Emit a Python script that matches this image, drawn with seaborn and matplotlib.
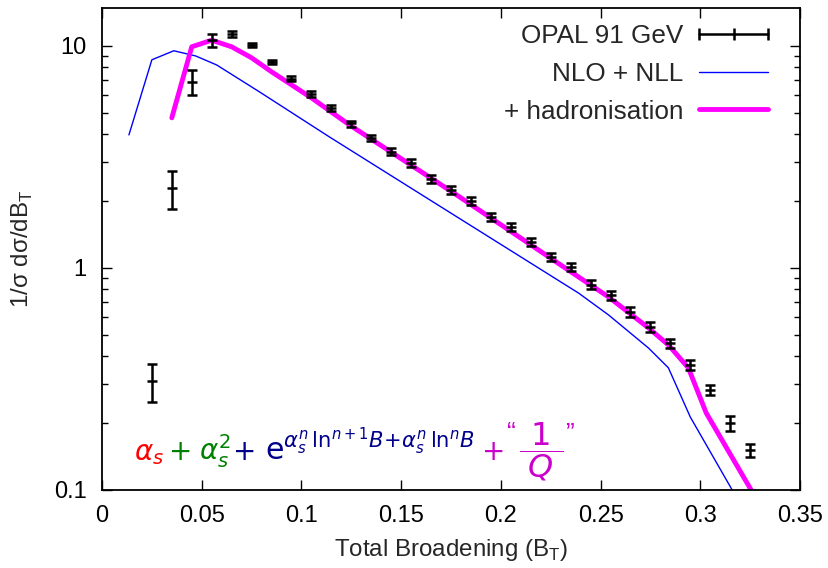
import numpy as np
import pandas as pd
import matplotlib
matplotlib.use("Agg")
import matplotlib.pyplot as plt
import seaborn as sns
from matplotlib.lines import Line2D
from matplotlib.ticker import FixedLocator, NullFormatter, FuncFormatter

# ---- data ----
bt = [0.025, 0.035, 0.045, 0.055, 0.065, 0.075, 0.085, 0.095, 0.105, 0.115,
      0.125, 0.135, 0.145, 0.155, 0.165, 0.175, 0.185, 0.195, 0.205, 0.215,
      0.225, 0.235, 0.245, 0.255, 0.265, 0.275, 0.285, 0.295, 0.305, 0.315, 0.325]
opal = [0.31, 2.29, 6.88, 10.6, 11.3, 10.05, 8.47, 7.1, 6.08, 5.26,
        4.47, 3.85, 3.33, 2.97, 2.52, 2.25, 2.0, 1.70, 1.53, 1.31,
        1.12, 1.01, 0.84, 0.755, 0.634, 0.542, 0.459, 0.366, 0.282, 0.2, 0.151]
opal_err = [0.06, 0.45, 0.9, 0.7, 0.35, 0.2, 0.2, 0.18, 0.17, 0.15,
            0.14, 0.13, 0.12, 0.11, 0.1, 0.09, 0.08, 0.07, 0.065, 0.055,
            0.05, 0.045, 0.04, 0.035, 0.03, 0.027, 0.022, 0.018, 0.015, 0.016, 0.01]

nll_x = [0.0135, 0.025, 0.036, 0.047, 0.0575, 0.079, 0.114, 0.1765,
         0.239, 0.254, 0.274, 0.284, 0.295, 0.316]
nll_y = [3.97, 8.65, 9.5, 9.0, 8.2, 6.2, 3.89, 1.73,
         0.77, 0.614, 0.436, 0.355, 0.213, 0.1]

had_x = [0.035, 0.045, 0.055, 0.065, 0.075, 0.085, 0.105, 0.124,
         0.1765, 0.239, 0.254, 0.274, 0.284, 0.294, 0.303, 0.3255]
had_y = [4.74, 9.9, 10.6, 9.9, 8.83, 7.64, 5.83, 4.41,
         2.17, 0.91, 0.74, 0.537, 0.45, 0.355, 0.222, 0.1]

labels = ["OPAL 91 GeV", "NLO + NLL", "+ hadronisation"]
xticks = [0, 0.05, 0.1, 0.15, 0.2, 0.25, 0.3, 0.35]
yticks = [0.1, 1, 10]

# ---- style ----
sns.set_style("ticks")
plt.rcParams["font.family"] = ["Liberation Sans", "DejaVu Sans"]
plt.rcParams["mathtext.fontset"] = "dejavusans"
FS_TICK = 17
FS_LAB = 17.4
FS_LEG = 18.8

W, H = 829, 568
fig = plt.figure(figsize=(W / 100, H / 100), dpi=100)
ax = fig.add_axes([102 / W, 1 - 490 / H, 698 / W, 482 / H])

df_nll = pd.DataFrame({"x": nll_x, "y": nll_y})
df_had = pd.DataFrame({"x": had_x, "y": had_y})
sns.lineplot(data=df_nll, x="x", y="y", color="#0000ff", lw=1.0, sort=False,
             estimator=None, ax=ax, legend=False)
sns.lineplot(data=df_had, x="x", y="y", color="#ff00ff", lw=3.5, sort=False,
             estimator=None, ax=ax, legend=False)
ax.errorbar(bt, opal, yerr=opal_err, fmt="_", color="k", ms=7, mew=1.8,
            elinewidth=1.8, capsize=3.5, capthick=1.8, zorder=5)

ax.set_yscale("log")
ax.set_xlim(0, 0.35)
ax.set_ylim(0.1, 14.8)
ax.xaxis.set_major_locator(FixedLocator(xticks))
ax.xaxis.set_major_formatter(FuncFormatter(lambda v, p: f"{v:g}"))
ax.yaxis.set_major_locator(FixedLocator(yticks))
ax.yaxis.set_major_formatter(FuncFormatter(lambda v, p: f"{v:g}"))
ax.yaxis.set_minor_locator(FixedLocator([m * d for d in (0.1, 1) for m in range(2, 10)]))
ax.yaxis.set_minor_formatter(NullFormatter())

for s in ax.spines.values():
    s.set_visible(True)
    s.set_linewidth(1.3)
    s.set_color("k")
ax.tick_params(which="both", direction="in", top=True, right=True,
               labelsize=FS_TICK, colors="k", width=1.0)
ax.tick_params(which="major", length=7)
ax.tick_params(which="minor", length=4)
ax.tick_params(axis="x", pad=11)
ax.tick_params(axis="y", pad=11)

ax.set_xlabel(r"Total Broadening (B$_\mathregular{T}$)", fontsize=FS_LAB, labelpad=7)
ax.set_ylabel(r"1/σ dσ/dB$_\mathregular{T}$", fontsize=FS_LAB, labelpad=14)

# ---- legend ----
handles = [
    Line2D([], [], color="k", lw=1.8, marker="|", ms=8, mew=1.8),
    Line2D([], [], color="#0000ff", lw=1.0),
    Line2D([], [], color="#ff00ff", lw=3.5),
]
leg = ax.legend(handles, labels, loc="upper right", bbox_to_anchor=(0.9805, 0.9876),
                frameon=False, fontsize=FS_LEG, markerfirst=False, numpoints=3,
                handlelength=3.24, handletextpad=0.31, labelspacing=0.52,
                borderaxespad=0.0, borderpad=0.4)
try:
    for col in leg._legend_handle_box.get_children():
        col.align = "right"
except Exception:
    pass

# ---- coloured formula (pieces placed left to right) ----
red, green, navy, mag = "#ff0000", "#008000", "#00008b", "#cc00cc"
pieces = [
    # text, colour, x-pixel, baseline y-pixel (from top), size
    (r"$\alpha_s$", red, 134, 460, 20),
    (r"$+$", green, 168, 460, 20),
    (r"$\alpha_s^2$", green, 199, 460, 20),
    (r"$+$", navy, 232, 460, 20),
    (r"$\mathrm{e}^{\alpha_s^n\,\mathrm{ln}^{n+1}B\!+\!\alpha_s^n\,\mathrm{ln}^{n}B}$", navy, 265, 460, 21.6),
    (r"$+$", mag, 481, 460, 20),
    ("\u201c", mag, 507, 440, 19),
    ("\u201d", mag, 565, 440, 19),
]
for txt, col, xp, yp, fs in pieces:
    fig.text(xp / W, 1 - yp / H, txt, color=col, fontsize=fs, ha="left", va="baseline")
fig.text(541 / W, 1 - 452 / H, r"$\dfrac{1}{\;Q\;}$", color=mag, fontsize=23,
         ha="center", va="center")

fig.savefig("out.png", dpi=100)
